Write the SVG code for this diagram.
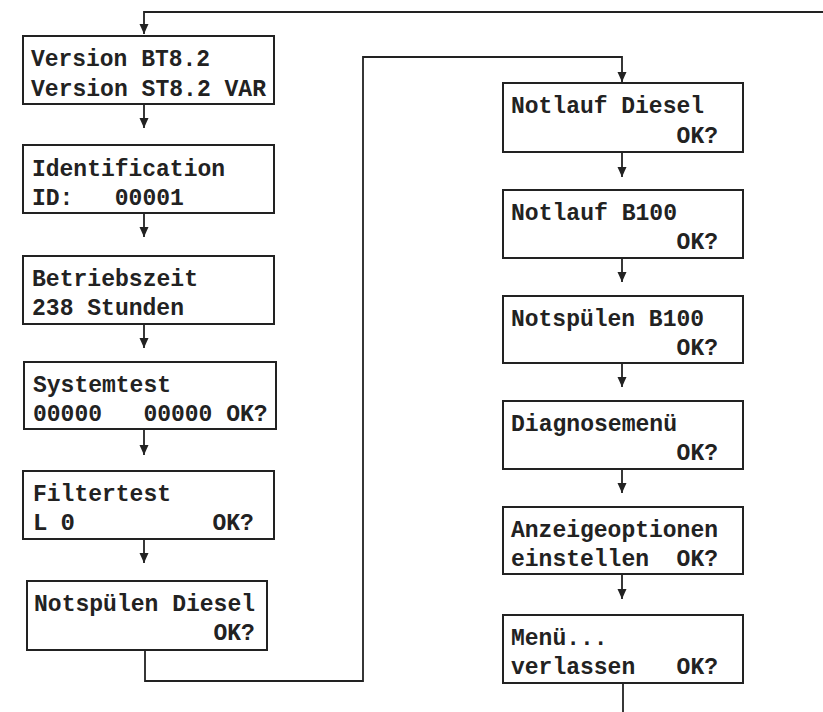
<svg xmlns="http://www.w3.org/2000/svg" width="823" height="712" viewBox="0 0 823 712">
<style>
.box{fill:#fff;stroke:#222;stroke-width:2}
.t{font-family:"Liberation Mono","DejaVu Sans Mono",monospace;font-weight:bold;font-size:24px;fill:#222}
.c{fill:none;stroke:#222;stroke-width:1.8}
</style>
<defs>
<marker id="ah" viewBox="0 0 10 10" refX="10" refY="5" markerWidth="10" markerHeight="10" markerUnits="userSpaceOnUse" orient="auto">
<path d="M0,0.5 L10,5 L0,9.5 Z" fill="#222"/>
</marker>
</defs>
<rect width="823" height="712" fill="#fff"/>
<g id="connectors">
<path class="c" d="M823,12 H144 V34" marker-end="url(#ah)"/>
<path class="c" d="M144,104 V128" marker-end="url(#ah)"/>
<path class="c" d="M144,213 V237" marker-end="url(#ah)"/>
<path class="c" d="M144,324 V348" marker-end="url(#ah)"/>
<path class="c" d="M144,429 V455" marker-end="url(#ah)"/>
<path class="c" d="M144,539 V563" marker-end="url(#ah)"/>
<path class="c" d="M145,650 V681 H363 V57 H622 V82" marker-end="url(#ah)"/>
<path class="c" d="M622,152 V177" marker-end="url(#ah)"/>
<path class="c" d="M622,258 V282" marker-end="url(#ah)"/>
<path class="c" d="M622,363 V387" marker-end="url(#ah)"/>
<path class="c" d="M622,469 V493" marker-end="url(#ah)"/>
<path class="c" d="M622,574 V599" marker-end="url(#ah)"/>
<path class="c" d="M623,683 V712"/>
</g>
<g id="n1"><rect class="box" x="23" y="36" width="251" height="68"/>
<text class="t" x="31" y="66" textLength="179" lengthAdjust="spacingAndGlyphs">Version BT8.2</text>
<text class="t" x="31" y="96" textLength="235" lengthAdjust="spacingAndGlyphs">Version ST8.2 VAR</text></g>
<g id="n2"><rect class="box" x="23" y="145" width="251" height="68"/>
<text class="t" x="32" y="176" textLength="193" lengthAdjust="spacingAndGlyphs">Identification</text>
<text class="t" y="205"><tspan x="32" textLength="41.4" lengthAdjust="spacingAndGlyphs">ID:</tspan><tspan x="114.8" textLength="69" lengthAdjust="spacingAndGlyphs">00001</tspan></text></g>
<g id="n3"><rect class="box" x="23" y="256" width="251" height="68"/>
<text class="t" x="32" y="286" textLength="166" lengthAdjust="spacingAndGlyphs">Betriebszeit</text>
<text class="t" x="32" y="315" textLength="152" lengthAdjust="spacingAndGlyphs">238 Stunden</text></g>
<g id="n4"><rect class="box" x="24" y="362" width="252" height="67"/>
<text class="t" x="33" y="392" textLength="138" lengthAdjust="spacingAndGlyphs">Systemtest</text>
<text class="t" y="421"><tspan x="33" textLength="69" lengthAdjust="spacingAndGlyphs">00000</tspan><tspan x="143.4" textLength="69" lengthAdjust="spacingAndGlyphs">00000</tspan><tspan x="226.2" textLength="41.4" lengthAdjust="spacingAndGlyphs">OK?</tspan></text></g>
<g id="n5"><rect class="box" x="23" y="471" width="251" height="68"/>
<text class="t" x="33" y="501" textLength="138" lengthAdjust="spacingAndGlyphs">Filtertest</text>
<text class="t" y="530"><tspan x="33">L</tspan><tspan x="60.6">0</tspan><tspan x="212.4" textLength="41.4" lengthAdjust="spacingAndGlyphs">OK?</tspan></text></g>
<g id="n6"><rect class="box" x="27" y="581" width="240" height="69"/>
<text class="t" x="34" y="611" textLength="221" lengthAdjust="spacingAndGlyphs">Notspülen Diesel</text>
<text class="t" x="213.4" y="640" textLength="41.4" lengthAdjust="spacingAndGlyphs">OK?</text></g>
<g id="n7"><rect class="box" x="503" y="83" width="240" height="69"/>
<text class="t" x="511" y="113" textLength="193" lengthAdjust="spacingAndGlyphs">Notlauf Diesel</text>
<text class="t" x="676.6" y="143" textLength="41.4" lengthAdjust="spacingAndGlyphs">OK?</text></g>
<g id="n8"><rect class="box" x="503" y="190" width="240" height="68"/>
<text class="t" x="511" y="220" textLength="166" lengthAdjust="spacingAndGlyphs">Notlauf B100</text>
<text class="t" x="676.6" y="249" textLength="41.4" lengthAdjust="spacingAndGlyphs">OK?</text></g>
<g id="n9"><rect class="box" x="503" y="296" width="240" height="67"/>
<text class="t" x="511" y="326" textLength="193" lengthAdjust="spacingAndGlyphs">Notspülen B100</text>
<text class="t" x="676.6" y="355" textLength="41.4" lengthAdjust="spacingAndGlyphs">OK?</text></g>
<g id="n10"><rect class="box" x="503" y="401" width="240" height="68"/>
<text class="t" x="511" y="431" textLength="166" lengthAdjust="spacingAndGlyphs">Diagnosemenü</text>
<text class="t" x="676.6" y="460" textLength="41.4" lengthAdjust="spacingAndGlyphs">OK?</text></g>
<g id="n11"><rect class="box" x="503" y="507" width="240" height="67"/>
<text class="t" x="511" y="537" textLength="207" lengthAdjust="spacingAndGlyphs">Anzeigeoptionen</text>
<text class="t" y="566"><tspan x="511" textLength="138" lengthAdjust="spacingAndGlyphs">einstellen</tspan><tspan x="676.6" textLength="41.4" lengthAdjust="spacingAndGlyphs">OK?</tspan></text></g>
<g id="n12"><rect class="box" x="503" y="615" width="240" height="68"/>
<text class="t" x="511" y="645" textLength="96.6" lengthAdjust="spacingAndGlyphs">Menü...</text>
<text class="t" y="674"><tspan x="511" textLength="124.2" lengthAdjust="spacingAndGlyphs">verlassen</tspan><tspan x="676.6" textLength="41.4" lengthAdjust="spacingAndGlyphs">OK?</tspan></text></g>
</svg>
